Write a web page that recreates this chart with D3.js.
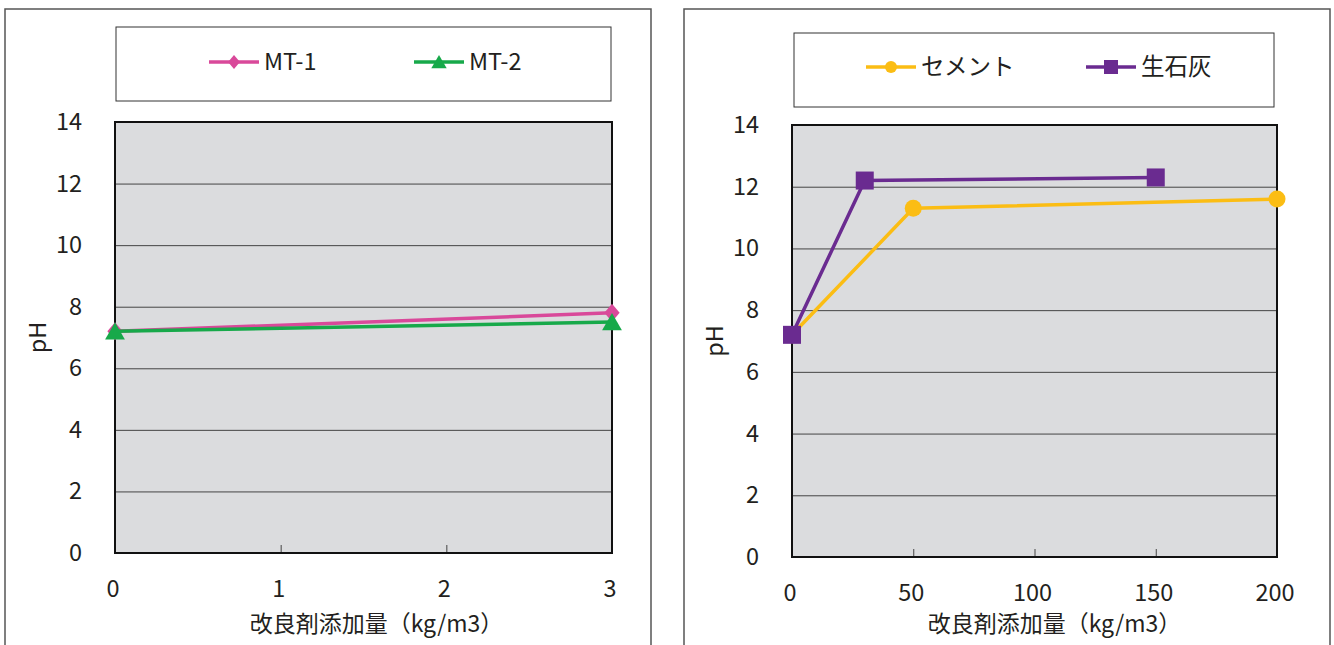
<!DOCTYPE html>
<html>
<head>
<meta charset="utf-8">
<script src="https://cdn.jsdelivr.net/npm/d3@7"></script>
<style>
  body { margin: 0; background: #fff; }
  text { font-family: "Noto Sans CJK JP", "Noto Sans", sans-serif; fill: #231f20; }
</style>
</head>
<body>
<svg id="chart" width="1334" height="645"></svg>
<script>
// データ
const yTicks = [0, 2, 4, 6, 8, 10, 12, 14];
const xTitle = "改良剤添加量（kg/m3）";
const yTitle = "pH";

// 左のグラフ
const xTicksL = [0, 1, 2, 3];
const mt1X = [0, 3], mt1Y = [7.2, 7.8];
const mt2X = [0, 3], mt2Y = [7.2, 7.5];

// 右のグラフ
const xTicksR = [0, 50, 100, 150, 200];
const cemX = [0, 50, 200], cemY = [7.2, 11.3, 11.6];
const limeX = [0, 30, 150], limeY = [7.2, 12.2, 12.3];

const svg = d3.select("#chart");
const fs = 23.5;

// マーカーの形
const marker = (g, type, x, y, s, color) => {
  if (type === "diamond") {
    g.append("path").attr("d", `M${x},${y - s}L${x + s * 0.85},${y}L${x},${y + s}L${x - s * 0.85},${y}Z`).attr("fill", color);
  } else if (type === "triangle") {
    g.append("path").attr("d", `M${x},${y - s}L${x + s * 1.1},${y + s * 0.9}L${x - s * 1.1},${y + s * 0.9}Z`).attr("fill", color);
  } else if (type === "circle") {
    g.append("circle").attr("cx", x).attr("cy", y).attr("r", s).attr("fill", color);
  } else {
    g.append("rect").attr("x", x - s).attr("y", y - s).attr("width", s * 2).attr("height", s * 2).attr("fill", color);
  }
};

const drawPanel = (p) => {
  const g = svg.append("g");

  // 外枠
  g.append("rect").attr("x", p.ox).attr("y", 9).attr("width", 646).attr("height", 660)
    .attr("fill", "none").attr("stroke", "#555").attr("stroke-width", 1.5);

  // 凡例
  g.append("rect").attr("x", p.lg[0]).attr("y", p.lg[1]).attr("width", p.lg[2]).attr("height", p.lg[3])
    .attr("fill", "#fff").attr("stroke", "#333").attr("stroke-width", 1);
  p.series.forEach(s => {
    g.append("line").attr("x1", s.lx).attr("x2", s.lx + 50).attr("y1", p.ly).attr("y2", p.ly)
      .attr("stroke", s.color).attr("stroke-width", 3.5);
    marker(g, s.type, s.lx + 25, p.ly, s.ls, s.color);
    g.append("text").attr("x", s.lx + 55).attr("y", p.ly + 8).attr("font-size", fs).text(s.name);
  });

  const x = d3.scaleLinear().domain(p.xd).range([p.x0, p.x1]);
  const y = d3.scaleLinear().domain([0, 14]).range([p.y0, p.y1]);

  // プロット領域
  g.append("rect").attr("x", p.x0).attr("y", p.y1).attr("width", p.x1 - p.x0).attr("height", p.y0 - p.y1)
    .attr("fill", "#dbdcde");

  // 目盛線
  g.append("g").attr("transform", `translate(${p.x0},0)`)
    .call(d3.axisLeft(y).tickValues(yTicks).tickSize(-(p.x1 - p.x0)).tickFormat(""))
    .call(a => a.select(".domain").remove())
    .call(a => a.selectAll("line").attr("stroke", "#444").attr("stroke-width", 1));

  g.append("g").attr("transform", `translate(0,${p.y0})`)
    .call(d3.axisBottom(x).tickValues(p.xt).tickSize(-8).tickFormat(""))
    .call(a => a.select(".domain").remove())
    .call(a => a.selectAll("line").attr("stroke", "#444").attr("stroke-width", 1));

  g.append("rect").attr("x", p.x0).attr("y", p.y1).attr("width", p.x1 - p.x0).attr("height", p.y0 - p.y1)
    .attr("fill", "none").attr("stroke", "#111").attr("stroke-width", 2);

  // 目盛ラベル
  g.selectAll(".yl").data(yTicks).enter().append("text")
    .attr("x", p.x0 - 33).attr("y", d => y(d) + 8).attr("text-anchor", "end").attr("font-size", fs).text(d => d);
  g.selectAll(".xl").data(p.xt).enter().append("text")
    .attr("x", d => x(d) - 2).attr("y", p.y0 + 44).attr("text-anchor", "middle").attr("font-size", fs).text(d => d);

  // 軸タイトル
  g.append("text").attr("x", (p.x0 + p.x1) / 2 + p.tdx).attr("y", 632).attr("text-anchor", "middle")
    .attr("font-size", 23).text(xTitle);
  g.append("text").attr("transform", `translate(${p.x0 - 69},${(p.y0 + p.y1) / 2}) rotate(-90)`)
    .attr("text-anchor", "middle").attr("font-size", fs).text(yTitle);

  // 系列
  const line = d3.line().x(d => x(d[0])).y(d => y(d[1]));
  p.series.forEach(s => {
    const pts = s.xs.map((v, i) => [v, s.ys[i]]);
    g.append("path").datum(pts).attr("d", line).attr("fill", "none")
      .attr("stroke", s.color).attr("stroke-width", 3.5);
    pts.forEach(d => marker(g, s.type, x(d[0]), y(d[1]), s.ms, s.color));
  });
};

drawPanel({
  ox: 5, lg: [116, 27, 495, 74], ly: 62, tdx: 13,
  x0: 115, x1: 612, y0: 553, y1: 122, xd: [0, 3], xt: xTicksL,
  series: [
    { name: "MT-1", xs: mt1X, ys: mt1Y, color: "#d9499a", type: "diamond", lx: 209, ls: 7, ms: 9 },
    { name: "MT-2", xs: mt2X, ys: mt2Y, color: "#17a94a", type: "triangle", lx: 414, ls: 7, ms: 9 }
  ]
});

drawPanel({
  ox: 684, lg: [794, 33, 480, 74], ly: 67, tdx: 20,
  x0: 792, x1: 1277, y0: 557, y1: 125, xd: [0, 200], xt: xTicksR,
  series: [
    { name: "セメント", xs: cemX, ys: cemY, color: "#fbbd14", type: "circle", lx: 866, ls: 6, ms: 8.5 },
    { name: "生石灰", xs: limeX, ys: limeY, color: "#6a2b90", type: "square", lx: 1086, ls: 7, ms: 9 }
  ]
});
</script>
</body>
</html>
